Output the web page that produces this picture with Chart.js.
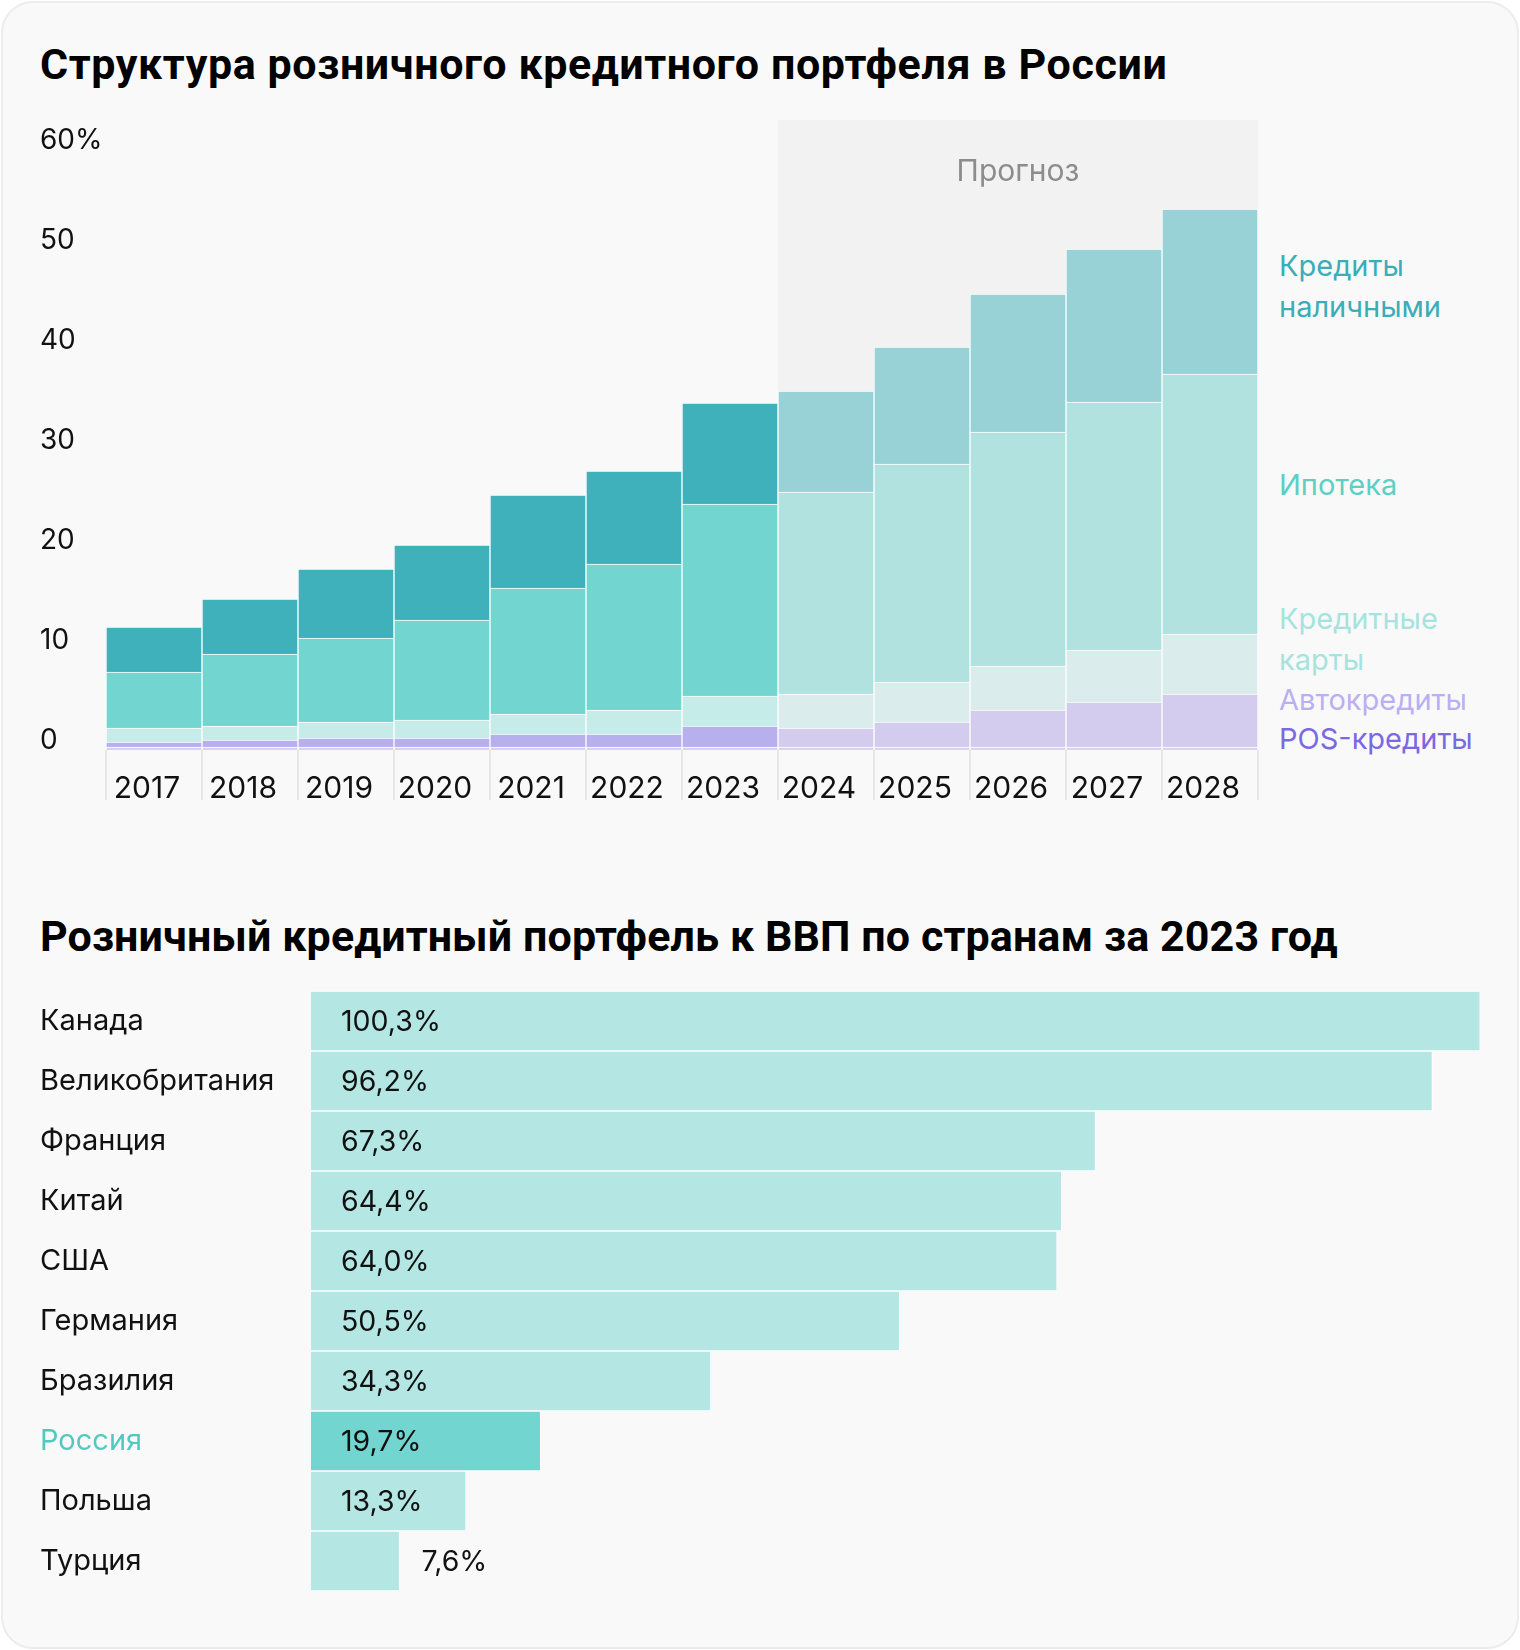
<!DOCTYPE html>
<html lang="ru">
<head>
<meta charset="UTF-8">
<title>Розничный кредитный портфель</title>
<script src="https://cdn.jsdelivr.net/npm/chart.js"></script>
<style>
  body { margin: 0; background: #ffffff; width: 1520px; height: 1650px; position: relative; overflow: hidden; }
  .card { position: absolute; left: 1px; top: 1px; width: 1514px; height: 1644px; background: #f9f9f9; border: 2px solid #ececec; border-radius: 32px; }
  .title { position: absolute; left: 40px; font-family: Roboto, sans-serif; font-weight: 700; font-size: 43px; line-height: 43px; color: #000; white-space: nowrap; }
  .lbl { position: absolute; left: 1279px; font-family: Inter, sans-serif; font-size: 29px; line-height: 41px; white-space: nowrap; }
  canvas { position: absolute; left: 0; }
</style>
</head>
<body>
<div class="card"></div>

<div class="title" style="top:43px;letter-spacing:0.6px">Структура розничного кредитного портфеля в России</div>

<div class="lbl" style="top:245px;color:#3aadb8">Кредиты<br>наличными</div>
<div class="lbl" style="top:464px;color:#5dcfc5">Ипотека</div>
<div class="lbl" style="top:598px;color:#a6e3de">Кредитные<br>карты</div>
<div class="lbl" style="top:679px;color:#b9b0f1">Автокредиты</div>
<div class="lbl" style="top:718px;color:#7a68e4">POS-кредиты</div>

<canvas id="portfolio" width="1520" height="720" style="top:100px"></canvas>

<div class="title" style="top:915px;letter-spacing:0.1px">Розничный кредитный портфель к ВВП по странам за 2023 год</div>

<canvas id="gdp" width="1520" height="620" style="top:980px"></canvas>

<script>
// --- структура портфеля, % ВВП
const years = ['2017', '2018', '2019', '2020', '2021', '2022', '2023', '2024', '2025', '2026', '2027', '2028'];
const forecastFrom = '2024';
const posLoans  = [0.3, 0.3, 0.3, 0.3, 0.3, 0.3, 0.3, 0.3, 0.3, 0.3, 0.3, 0.3];
const autoLoans = [0.5, 0.7, 0.9, 0.9, 1.3, 1.3, 2.1, 1.9, 2.5, 3.7, 4.5, 5.3];
const cards     = [1.4, 1.4, 1.6, 1.8, 2.0, 2.4, 3.0, 3.4, 4.0, 4.4, 5.2, 6.0];
const mortgage  = [5.6, 7.2, 8.4, 10.0, 12.6, 14.6, 19.2, 20.2, 21.8, 23.4, 24.8, 26.0];
const cashLoans = [4.5, 5.5, 6.9, 7.5, 9.3, 9.3, 10.1, 10.1, 11.7, 13.8, 15.3, 16.5];
const yTicks = [0, 10, 20, 30, 40, 50, 60];

// --- розничный кредитный портфель к ВВП, 2023
const countries = ['Канада', 'Великобритания', 'Франция', 'Китай', 'США', 'Германия', 'Бразилия', 'Россия', 'Польша', 'Турция'];
const gdpShare  = [100.3, 96.2, 67.3, 64.4, 64.0, 50.5, 34.3, 19.7, 13.3, 7.6];
const highlight = 'Россия';

Chart.defaults.font.family = 'Inter, sans-serif';
Chart.defaults.color = '#111';

const firstForecast = years.indexOf(forecastFrom);
function colorsFor(hist, forecast) {
  return years.map((y, i) => i < firstForecast ? hist : forecast);
}

const forecastBand = {
  id: 'forecastBand',
  beforeDatasetsDraw(chart) {
    const { ctx, chartArea, scales: { x } } = chart;
    const half = (x.getPixelForValue(1) - x.getPixelForValue(0)) / 2;
    const left = x.getPixelForValue(firstForecast) - half;
    const right = x.getPixelForValue(years.length - 1) + half;
    ctx.save();
    ctx.fillStyle = '#f2f2f2';
    ctx.fillRect(left, chartArea.top, right - left, chartArea.bottom - chartArea.top);
    ctx.fillStyle = '#8c8c8c';
    ctx.font = '30px Inter, sans-serif';
    ctx.textAlign = 'center';
    ctx.textBaseline = 'alphabetic';
    ctx.fillText('Прогноз', (left + right) / 2, chartArea.top + 61);
    ctx.restore();
  }
};

const barStyle = { borderColor: '#ffffff', borderWidth: 1, barPercentage: 1, categoryPercentage: 1 };

new Chart(document.getElementById('portfolio'), {
  type: 'bar',
  data: {
    labels: years,
    datasets: [
      { label: 'POS-кредиты', data: posLoans, backgroundColor: colorsFor('#d7d0f3', '#d9d3f0'), ...barStyle },
      { label: 'Автокредиты', data: autoLoans, backgroundColor: colorsFor('#b8afed', '#d4ccee'), ...barStyle },
      { label: 'Кредитные карты', data: cards, backgroundColor: colorsFor('#c5ece8', '#daeceb'), ...barStyle },
      { label: 'Ипотека', data: mortgage, backgroundColor: colorsFor('#72d5cf', '#b1e2df'), ...barStyle },
      { label: 'Кредиты наличными', data: cashLoans, backgroundColor: colorsFor('#3fb1bb', '#99d2d6'), ...barStyle }
    ]
  },
  options: {
    responsive: false,
    animation: false,
    layout: { padding: { left: 40, right: 262, top: 20, bottom: 0 } },
    plugins: { legend: { display: false }, tooltip: { enabled: false } },
    scales: {
      x: {
        stacked: true,
        border: { display: false },
        grid: { offset: true, drawOnChartArea: false, drawTicks: true, tickLength: 50, color: '#e6e6e6', lineWidth: 2 },
        ticks: { font: { size: 30 }, color: '#111', padding: -29, labelOffset: -7, maxRotation: 0, autoSkip: false },
        afterFit(axis) { axis.height = 70; }
      },
      y: {
        stacked: true,
        min: 0,
        max: 63,
        border: { display: false },
        grid: { display: false },
        afterBuildTicks(axis) { axis.ticks = yTicks.map(v => ({ value: v })); },
        ticks: {
          font: { size: 28 },
          color: '#111',
          crossAlign: 'far',
          labelOffset: -9,
          callback: v => v === 60 ? '60%' : String(v)
        },
        afterFit(axis) { axis.width = 66; }
      }
    }
  },
  plugins: [forecastBand]
});

const valueLabels = {
  id: 'valueLabels',
  afterDatasetsDraw(chart) {
    const { ctx } = chart;
    const meta = chart.getDatasetMeta(0);
    ctx.save();
    ctx.font = '28.5px Inter, sans-serif';
    ctx.fillStyle = '#111';
    ctx.textBaseline = 'middle';
    ctx.textAlign = 'left';
    meta.data.forEach((bar, i) => {
      const text = gdpShare[i].toFixed(1).replace('.', ',') + '%';
      const w = ctx.measureText(text).width;
      const inside = bar.x - bar.base > w + 60;
      ctx.fillText(text, inside ? bar.base + 30 : bar.x + 22, bar.y + 1);
    });
    ctx.restore();
  }
};

new Chart(document.getElementById('gdp'), {
  type: 'bar',
  data: {
    labels: countries,
    datasets: [{
      data: gdpShare,
      backgroundColor: countries.map(c => c === highlight ? '#72d5cf' : '#b4e6e3'),
      borderColor: '#ffffff',
      borderWidth: 1,
      barPercentage: 1,
      categoryPercentage: 1
    }]
  },
  options: {
    indexAxis: 'y',
    responsive: false,
    animation: false,
    layout: { padding: { left: 40, right: 20, top: 11, bottom: 9 } },
    plugins: { legend: { display: false }, tooltip: { enabled: false } },
    scales: {
      x: { display: false, min: 0, max: 102 },
      y: {
        border: { display: false },
        grid: { display: false },
        ticks: {
          font: { size: 29 },
          crossAlign: 'far',
          color: ctx => countries[ctx.index] === highlight ? '#52c9c0' : '#111'
        },
        afterFit(axis) {
          axis.width = 271;
          axis.paddingTop = 0;
          axis.paddingBottom = 0;
        }
      }
    }
  },
  plugins: [valueLabels]
});
</script>
</body>
</html>
